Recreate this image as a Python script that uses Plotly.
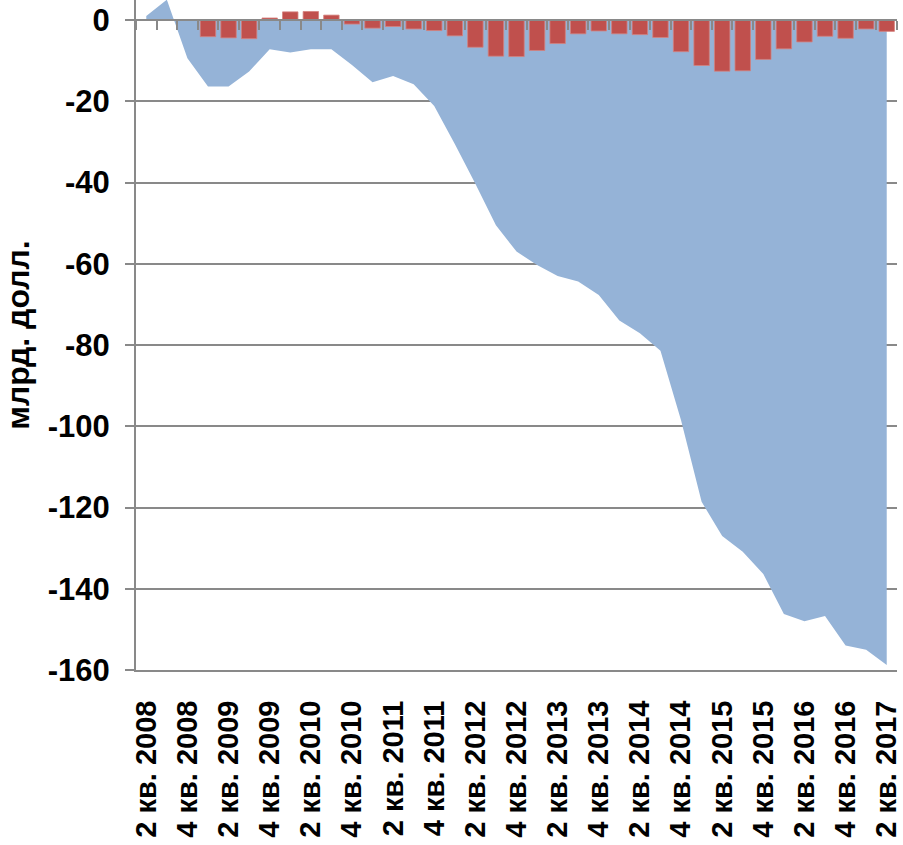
import plotly.graph_objects as go

quarters = [
    "2 кв. 2008", "3 кв. 2008", "4 кв. 2008",
    "1 кв. 2009", "2 кв. 2009", "3 кв. 2009", "4 кв. 2009",
    "1 кв. 2010", "2 кв. 2010", "3 кв. 2010", "4 кв. 2010",
    "1 кв. 2011", "2 кв. 2011", "3 кв. 2011", "4 кв. 2011",
    "1 кв. 2012", "2 кв. 2012", "3 кв. 2012", "4 кв. 2012",
    "1 кв. 2013", "2 кв. 2013", "3 кв. 2013", "4 кв. 2013",
    "1 кв. 2014", "2 кв. 2014", "3 кв. 2014", "4 кв. 2014",
    "1 кв. 2015", "2 кв. 2015", "3 кв. 2015", "4 кв. 2015",
    "1 кв. 2016", "2 кв. 2016", "3 кв. 2016", "4 кв. 2016",
    "1 кв. 2017", "2 кв. 2017",
]

cumulative = [
    1.0, 5.0, -9.4,
    -16.4, -16.4, -12.7, -7.2,
    -8.0, -7.2, -7.2, -11.1,
    -15.3, -13.8, -15.8, -21.2,
    -30.5, -40.3, -50.5, -57.0,
    -60.3, -63.0, -64.4, -67.7,
    -74.0, -77.1, -81.4, -98.5,
    -118.6, -127.0, -130.9, -136.4,
    -146.2, -148.0, -146.7, -154.0,
    -155.0, -158.8,
]

quarterly = [
    None, None, None,
    -4.1, -4.4, -4.6, 0.5,
    2.0, 2.1, 1.2, -1.0,
    -2.0, -1.6, -2.2, -2.6,
    -3.9, -6.7, -8.9, -9.0,
    -7.5, -5.8, -3.4, -2.7,
    -3.4, -3.6, -4.3, -7.8,
    -11.2, -12.6, -12.5, -9.7,
    -7.1, -5.4, -4.0, -4.5,
    -2.2, -2.8,
]

label_quarters = quarters[::2]
y_ticks = [0, -20, -40, -60, -80, -100, -120, -140, -160]
y_tick_text = ["0", "-20", "-40", "-60", "-80", "-100", "-120", "-140", "-160"]
y_title = "млрд. долл."

GRID = "#898989"
FONT = "Arial, Liberation Sans, sans-serif"

fig = go.Figure()
fig.add_trace(go.Scatter(
    x=quarters, y=cumulative, mode="none", fill="tozeroy",
    fillcolor="#95B3D7", hoverinfo="skip", showlegend=False,
    xaxis="x", yaxis="y",
))
fig.add_trace(go.Bar(
    x=quarters, y=quarterly,
    marker=dict(color="#C0504D", line=dict(color="#D4817E", width=0.8)),
    showlegend=False, xaxis="x2", yaxis="y",
))

y_min, y_max = -160, 4.923
zero_pos = (0 - y_min) / (y_max - y_min)

fig.update_layout(
    width=903, height=845,
    margin=dict(l=136, r=6, t=0, b=175, autoexpand=False),
    paper_bgcolor="white", plot_bgcolor="white",
    bargap=0.25,
    font=dict(family=FONT, color="black"),
    xaxis=dict(
        type="category", categoryorder="array", categoryarray=quarters,
        range=[-0.5, len(quarters) - 0.5],
        tickmode="array", tickvals=label_quarters, ticktext=label_quarters,
        tickangle=-90, ticks="", showgrid=False,
        showline=True, linecolor=GRID, linewidth=2,
        tickfont=dict(family=FONT, size=29, weight="bold", color="black"),
        ticklabelstandoff=17, automargin=False,
    ),
    xaxis2=dict(
        type="category", categoryorder="array", categoryarray=quarters,
        range=[-0.5, len(quarters) - 0.5],
        overlaying="x", anchor="free", position=zero_pos, side="bottom",
        tickson="boundaries", ticks="outside", ticklen=9, tickwidth=2,
        tickcolor=GRID, showticklabels=False, showgrid=False,
        showline=True, linecolor=GRID, linewidth=2, automargin=False,
    ),
    yaxis=dict(
        range=[y_min, y_max], tickmode="array", tickvals=y_ticks,
        ticktext=y_tick_text,
        showgrid=True, gridcolor=GRID, gridwidth=2, zeroline=False,
        showline=True, linecolor=GRID, linewidth=2,
        ticks="outside", ticklen=9, tickwidth=2, tickcolor=GRID,
        tickfont=dict(family=FONT, size=31, weight="bold", color="black"),
        ticklabelstandoff=9,
        title=dict(text=y_title, standoff=10,
                   font=dict(family=FONT, size=32, weight="bold", color="black")),
        automargin=False,
    ),
)

fig.write_html("out.html", post_script="document.body.style.margin='0px';",
               config={"displayModeBar": False})
